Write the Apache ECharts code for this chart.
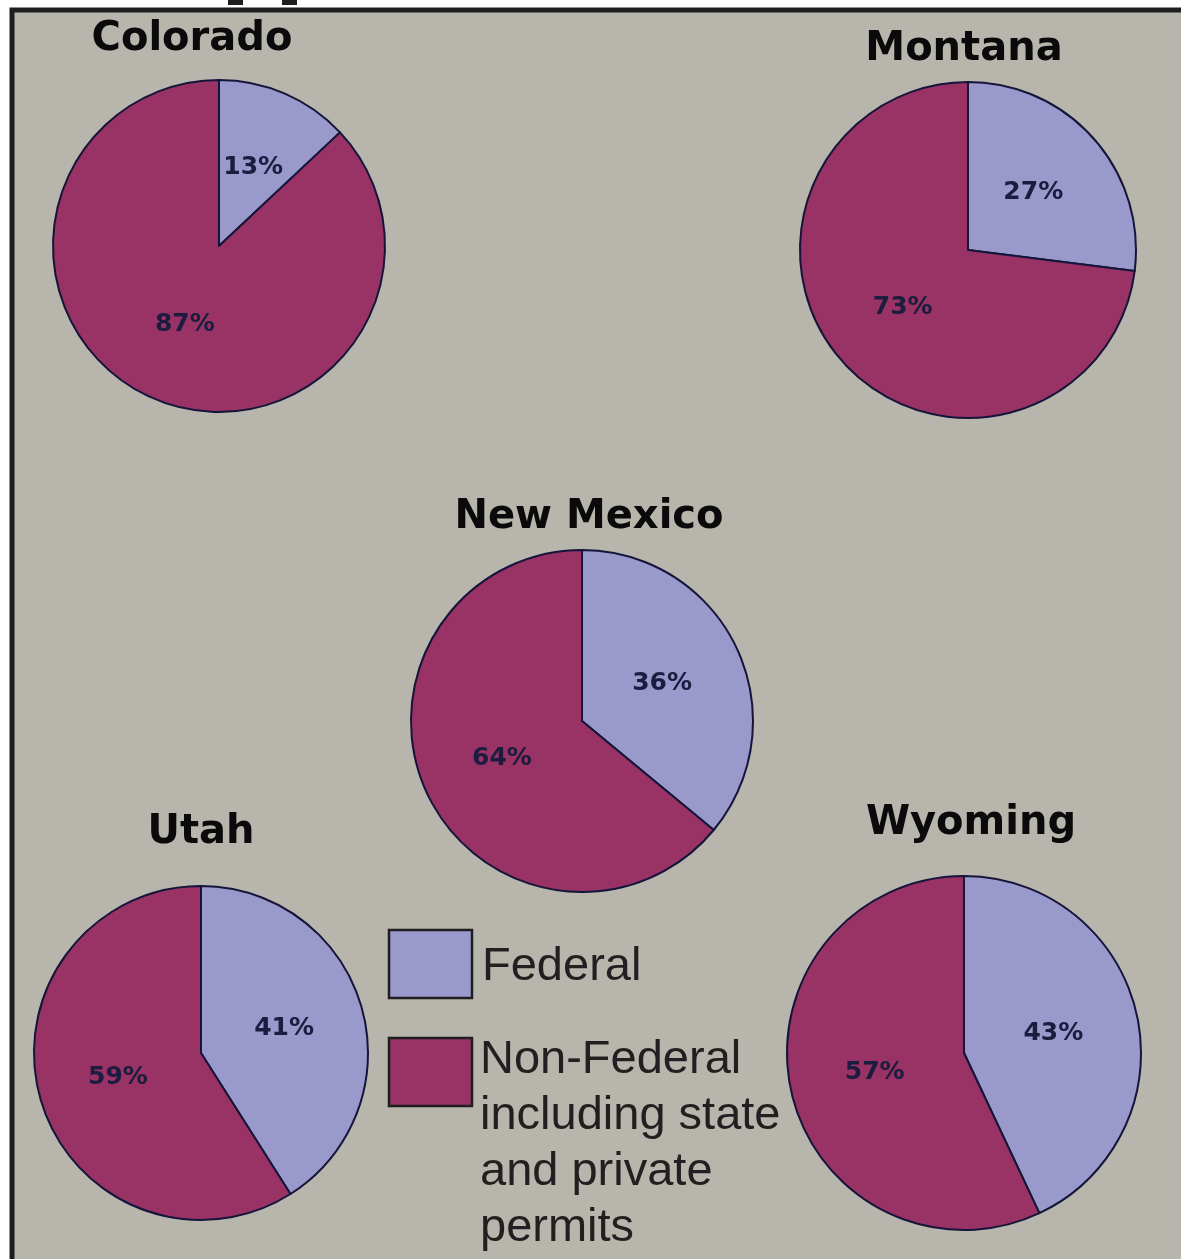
<!DOCTYPE html>
<html lang="en">
<head>
  <meta charset="UTF-8">
  <title>Federal vs Non-Federal</title>
  <script src="https://cdn.jsdelivr.net/npm/echarts@6/dist/echarts.min.js"></script>
  <style>
    html, body { margin: 0; padding: 0; background: #fff; }
    #main { width: 1181px; height: 1259px; }
  </style>
</head>
<body>
<div id="main"></div>
<script>
  // data
  var states = ['Colorado', 'Montana', 'New Mexico', 'Utah', 'Wyoming'];
  var federal = [13, 27, 36, 41, 43];
  var nonFederal = [87, 73, 64, 59, 57];
  var legendNames = ['Federal', 'Non-Federal\nincluding state\nand private\npermits'];

  // layout of each pie (centre x, centre y, radius, title centre)
  var layout = [
    {x: 219, y: 246, r: 166, ty: 40, tx: 192},
    {x: 968, y: 250, r: 168, ty: 50, tx: 964},
    {x: 582, y: 721, r: 171, ty: 518, tx: 589},
    {x: 201, y: 1053, r: 167, ty: 833, tx: 201},
    {x: 964, y: 1053, r: 177, ty: 824, tx: 971}
  ];

  var colFed = '#9999cc';
  var colNon = '#993366';
  var bg = '#b8b5ad';

  var myChart = echarts.init(document.getElementById('main'));

  var titles = [];
  var series = [];
  for (var i = 0; i < states.length; i++) {
    var L = layout[i];
    titles.push({
      text: states[i],
      left: L.tx,
      top: L.ty - 20,
      textAlign: 'center',
      padding: 0,
      textStyle: {fontFamily: 'DejaVu Sans', fontWeight: 'bold', fontSize: 40, color: '#0a0a0a'}
    });
    series.push({
      type: 'pie',
      center: [L.x, L.y],
      radius: [0, L.r],
      startAngle: 90,
      clockwise: true,
      silent: true,
      animation: false,
      label: {
        position: 'inside',
        formatter: '{c}%',
        fontFamily: 'DejaVu Sans',
        fontWeight: 'bold',
        fontSize: 25,
        color: '#1c1c3e'
      },
      labelLine: {show: false},
      itemStyle: {borderColor: '#15153a', borderWidth: 2},
      data: [
        {name: legendNames[0], value: federal[i], itemStyle: {color: colFed}},
        {name: legendNames[1], value: nonFederal[i], itemStyle: {color: colNon}}
      ]
    });
  }

  var option = {
    backgroundColor: '#ffffff',
    title: titles,
    graphic: [
      // frame
      {type: 'rect', z: -10, shape: {x: 12, y: 10, width: 1200, height: 1300},
        style: {fill: bg, stroke: '#1e1e1e', lineWidth: 5}},
      // bits of cut-off text above the frame
      {type: 'rect', shape: {x: 228, y: 0, width: 15, height: 5}, style: {fill: '#1e1e1e'}},
      {type: 'rect', shape: {x: 282, y: 0, width: 15, height: 5}, style: {fill: '#1e1e1e'}},
      // legend
      {type: 'rect', shape: {x: 389, y: 930, width: 83, height: 68},
        style: {fill: colFed, stroke: '#1e1e1e', lineWidth: 2.5}},
      {type: 'text', x: 482, y: 967,
        style: {text: legendNames[0], font: '47px "Liberation Sans"', fill: '#231f20', verticalAlign: 'middle'}},
      {type: 'rect', shape: {x: 389, y: 1038, width: 83, height: 68},
        style: {fill: colNon, stroke: '#1e1e1e', lineWidth: 2.5}},
      {type: 'text', x: 480, y: 1032,
        style: {text: legendNames[1], font: '47px "Liberation Sans"', lineHeight: 56, fill: '#231f20', verticalAlign: 'top'}}
    ],
    series: series
  };

  option && myChart.setOption(option);
</script>
</body>
</html>
